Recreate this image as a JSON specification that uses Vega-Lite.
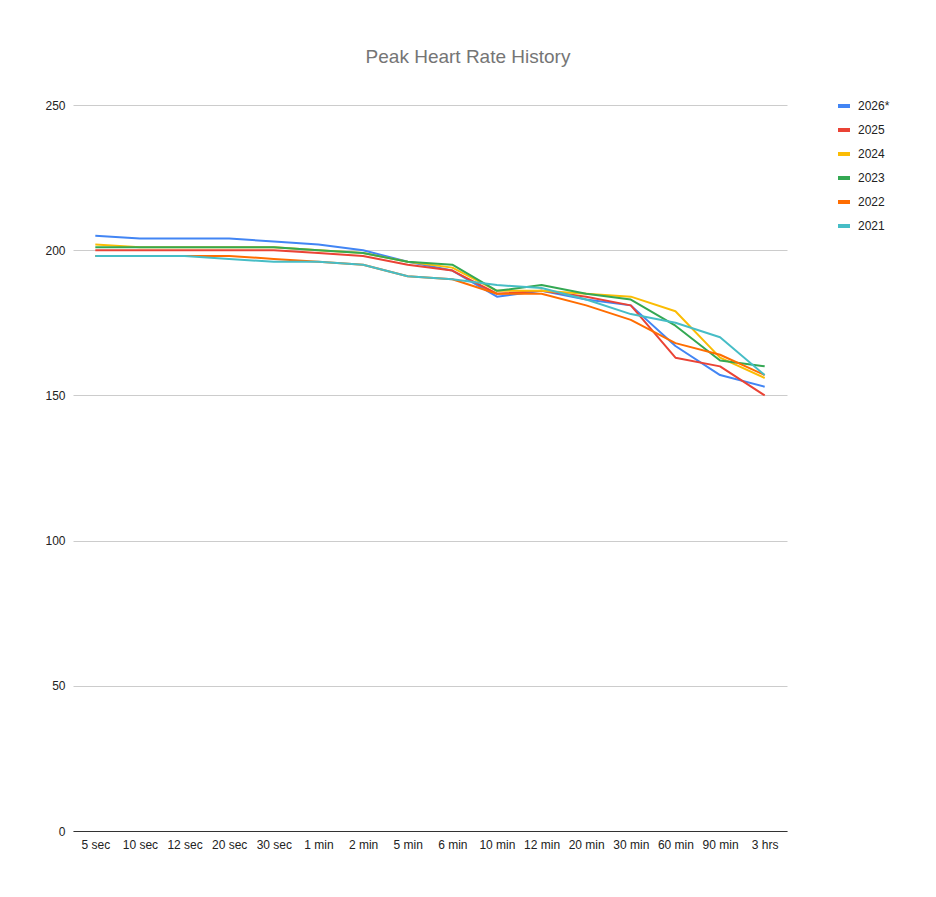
{
  "$schema": "https://vega.github.io/schema/vega-lite/v6.json",
  "width": 714,
  "height": 726,
  "autosize": "none",
  "padding": {"left": 73, "top": 105, "right": 149, "bottom": 66},
  "background": "white",
  "config": {
    "font": "Liberation Sans",
    "view": {"stroke": null}
  },
  "title": {
    "text": "Peak Heart Rate History",
    "fontSize": 19,
    "fontWeight": "normal",
    "color": "#757575",
    "font": "Liberation Sans",
    "anchor": "middle",
    "dx": 38,
    "baseline": "alphabetic",
    "offset": 16
  },
  "data": {
    "values": [
      {"d":"5 sec","s":"2026*","v":205},{"d":"10 sec","s":"2026*","v":204},{"d":"12 sec","s":"2026*","v":204},{"d":"20 sec","s":"2026*","v":204},{"d":"30 sec","s":"2026*","v":203},{"d":"1 min","s":"2026*","v":202},{"d":"2 min","s":"2026*","v":200},{"d":"5 min","s":"2026*","v":196},{"d":"6 min","s":"2026*","v":193},{"d":"10 min","s":"2026*","v":184},{"d":"12 min","s":"2026*","v":186},{"d":"20 min","s":"2026*","v":183},{"d":"30 min","s":"2026*","v":181},{"d":"60 min","s":"2026*","v":167},{"d":"90 min","s":"2026*","v":157},{"d":"3 hrs","s":"2026*","v":153},
      {"d":"5 sec","s":"2025","v":200},{"d":"10 sec","s":"2025","v":200},{"d":"12 sec","s":"2025","v":200},{"d":"20 sec","s":"2025","v":200},{"d":"30 sec","s":"2025","v":200},{"d":"1 min","s":"2025","v":199},{"d":"2 min","s":"2025","v":198},{"d":"5 min","s":"2025","v":195},{"d":"6 min","s":"2025","v":193},{"d":"10 min","s":"2025","v":185},{"d":"12 min","s":"2025","v":186},{"d":"20 min","s":"2025","v":184},{"d":"30 min","s":"2025","v":181},{"d":"60 min","s":"2025","v":163},{"d":"90 min","s":"2025","v":160},{"d":"3 hrs","s":"2025","v":150},
      {"d":"5 sec","s":"2024","v":202},{"d":"10 sec","s":"2024","v":201},{"d":"12 sec","s":"2024","v":201},{"d":"20 sec","s":"2024","v":201},{"d":"30 sec","s":"2024","v":201},{"d":"1 min","s":"2024","v":200},{"d":"2 min","s":"2024","v":199},{"d":"5 min","s":"2024","v":196},{"d":"6 min","s":"2024","v":194},{"d":"10 min","s":"2024","v":186},{"d":"12 min","s":"2024","v":186},{"d":"20 min","s":"2024","v":185},{"d":"30 min","s":"2024","v":184},{"d":"60 min","s":"2024","v":179},{"d":"90 min","s":"2024","v":163},{"d":"3 hrs","s":"2024","v":156},
      {"d":"5 sec","s":"2023","v":201},{"d":"10 sec","s":"2023","v":201},{"d":"12 sec","s":"2023","v":201},{"d":"20 sec","s":"2023","v":201},{"d":"30 sec","s":"2023","v":201},{"d":"1 min","s":"2023","v":200},{"d":"2 min","s":"2023","v":199},{"d":"5 min","s":"2023","v":196},{"d":"6 min","s":"2023","v":195},{"d":"10 min","s":"2023","v":186},{"d":"12 min","s":"2023","v":188},{"d":"20 min","s":"2023","v":185},{"d":"30 min","s":"2023","v":183},{"d":"60 min","s":"2023","v":174},{"d":"90 min","s":"2023","v":162},{"d":"3 hrs","s":"2023","v":160},
      {"d":"5 sec","s":"2022","v":198},{"d":"10 sec","s":"2022","v":198},{"d":"12 sec","s":"2022","v":198},{"d":"20 sec","s":"2022","v":198},{"d":"30 sec","s":"2022","v":197},{"d":"1 min","s":"2022","v":196},{"d":"2 min","s":"2022","v":195},{"d":"5 min","s":"2022","v":191},{"d":"6 min","s":"2022","v":190},{"d":"10 min","s":"2022","v":185},{"d":"12 min","s":"2022","v":185},{"d":"20 min","s":"2022","v":181},{"d":"30 min","s":"2022","v":176},{"d":"60 min","s":"2022","v":168},{"d":"90 min","s":"2022","v":164},{"d":"3 hrs","s":"2022","v":157},
      {"d":"5 sec","s":"2021","v":198},{"d":"10 sec","s":"2021","v":198},{"d":"12 sec","s":"2021","v":198},{"d":"20 sec","s":"2021","v":197},{"d":"30 sec","s":"2021","v":196},{"d":"1 min","s":"2021","v":196},{"d":"2 min","s":"2021","v":195},{"d":"5 min","s":"2021","v":191},{"d":"6 min","s":"2021","v":190},{"d":"10 min","s":"2021","v":188},{"d":"12 min","s":"2021","v":187},{"d":"20 min","s":"2021","v":183},{"d":"30 min","s":"2021","v":178},{"d":"60 min","s":"2021","v":175},{"d":"90 min","s":"2021","v":170},{"d":"3 hrs","s":"2021","v":157}
    ]
  },
  "mark": {"type": "line", "strokeWidth": 2, "strokeJoin": "round"},
  "encoding": {
    "x": {
      "field": "d",
      "type": "ordinal",
      "sort": null,
      "scale": {"type": "point", "padding": 0.5},
      "axis": {
        "title": null,
        "labelAngle": 0,
        "ticks": false,
        "domainColor": "#333333",
        "domainWidth": 1,
        "labelFontSize": 12,
        "labelColor": "#222222",
        "labelPadding": 8,
        "grid": false
      }
    },
    "y": {
      "field": "v",
      "type": "quantitative",
      "scale": {"domain": [0, 250], "nice": false},
      "axis": {
        "title": null,
        "values": [0, 50, 100, 150, 200, 250],
        "domain": false,
        "ticks": false,
        "gridColor": "#cccccc",
        "labelFontSize": 12,
        "labelColor": "#222222",
        "labelPadding": 8
      }
    },
    "color": {
      "field": "s",
      "type": "nominal",
      "sort": null,
      "scale": {
        "domain": ["2026*", "2025", "2024", "2023", "2022", "2021"],
        "range": ["#4285F4", "#EA4335", "#FBBC04", "#34A853", "#FF6D01", "#46BDC6"]
      },
      "legend": {
        "title": null,
        "orient": "none",
        "legendX": 763,
        "legendY": -7,
        "symbolType": "stroke",
        "symbolSize": 144,
        "symbolStrokeWidth": 4,
        "labelFontSize": 12,
        "labelColor": "#222222",
        "labelOffset": 6,
        "rowPadding": 8
      }
    }
  }
}
